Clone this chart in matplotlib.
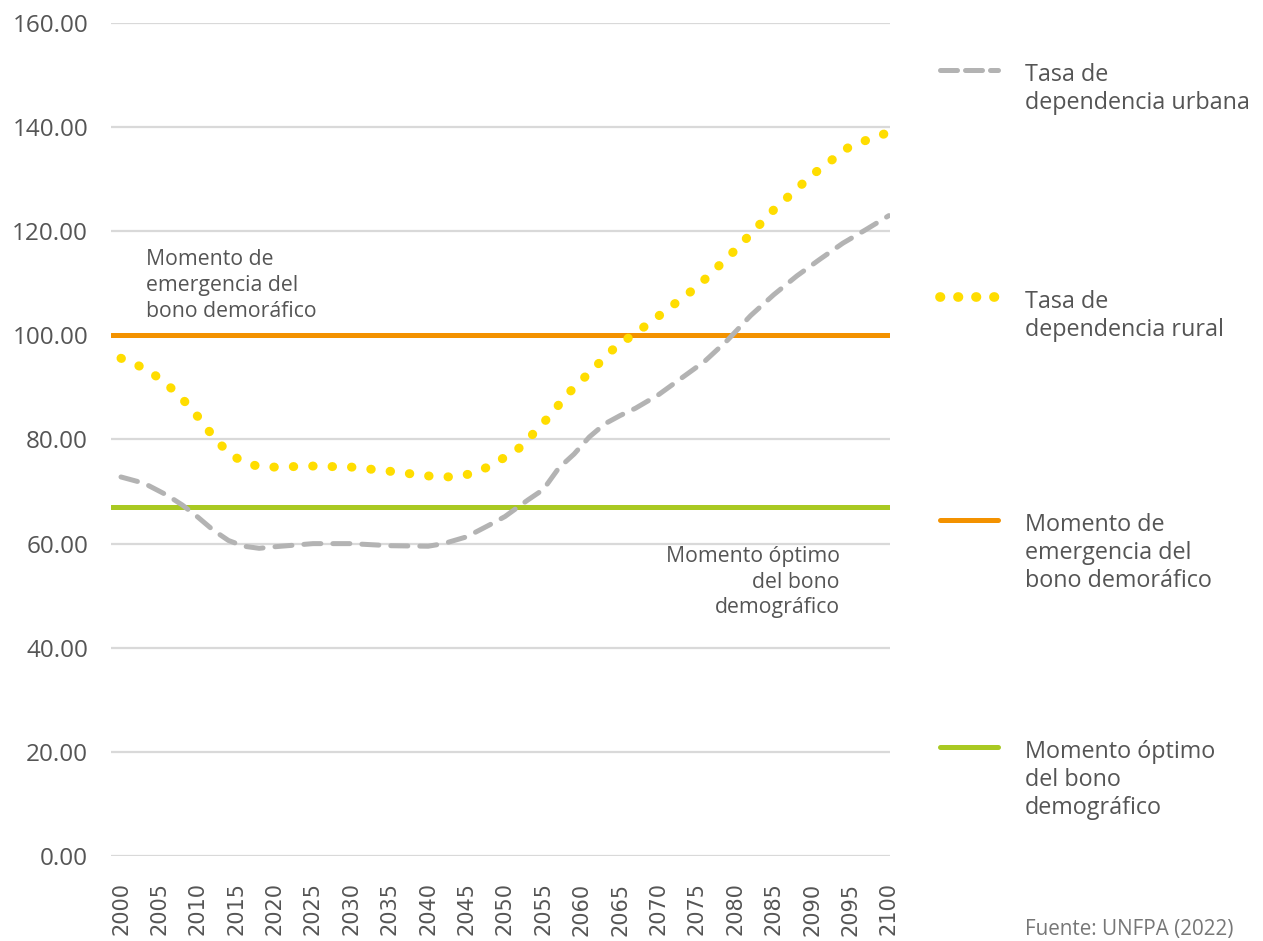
import matplotlib
matplotlib.use("Agg")
import matplotlib.pyplot as plt
from matplotlib.lines import Line2D

plt.rcParams['font.family'] = ['Open Sans', 'DejaVu Sans']

# datos
anios_rural = [2000, 2002, 2004, 2006, 2008, 2010, 2012, 2014, 2016, 2018, 2020,
               2025, 2030, 2035, 2040, 2043, 2046, 2048, 2050, 2052, 2054, 2056,
               2058, 2060, 2062, 2064, 2066, 2068, 2070, 2075, 2080, 2085, 2090,
               2095, 2100]
tasa_rural = [95.6, 94.4, 92.8, 90.6, 87.8, 84.4, 80.6, 77.4, 75.6, 74.8, 74.7,
              74.9, 74.7, 73.9, 73.0, 72.8, 73.5, 74.9, 76.6, 78.5, 81.6, 84.8,
              88.5, 91.4, 94.3, 97.2, 99.4, 101.5, 103.7, 109.3, 116.4, 124.1, 130.8,
              136.4, 139.0]

anios_urbana = [2000, 2003, 2006, 2008, 2010, 2012, 2014, 2016, 2018, 2020, 2025,
                2030, 2035, 2040, 2042, 2045, 2048, 2050, 2053, 2055, 2057, 2059,
                2061, 2063, 2065, 2067, 2070, 2073, 2076, 2079, 2082, 2085, 2088,
                2091, 2094, 2097, 2100]
tasa_urbana = [72.8, 71.6, 69.3, 67.4, 65.1, 62.6, 60.6, 59.5, 59.1, 59.4, 60.0,
               60.0, 59.6, 59.5, 60.0, 61.3, 63.6, 65.2, 68.4, 70.4, 74.5, 77.2,
               80.5, 83.0, 84.6, 86.0, 88.6, 91.8, 95.0, 99.1, 103.8, 107.8, 111.4,
               114.6, 117.7, 120.3, 123.0]

momento_emergencia = 100
momento_optimo = 67

ticks_x = list(range(2000, 2101, 5))
ticks_y = list(range(0, 161, 20))

gris = '#b3b3b3'
amarillo = '#ffdd00'
naranja = '#f39200'
verde = '#a9c922'
texto = '#555555'

fig = plt.figure(figsize=(12.63, 9.41), dpi=100)
ax = fig.add_axes([0.0879, 0.0903, 0.6168, 0.8853])

ax.axhline(momento_emergencia, color=naranja, lw=3.6, solid_capstyle='round', zorder=2)
ax.axhline(momento_optimo, color=verde, lw=3.6, solid_capstyle='round', zorder=2)
ax.plot(anios_urbana, tasa_urbana, color=gris, lw=3.6, linestyle=(0, (3.4, 2.4)),
        dash_capstyle='round', zorder=3)
ax.plot(anios_rural, tasa_rural, color=amarillo, lw=6.5, linestyle=(0, (0.05, 2.1)),
        dash_capstyle='round', zorder=4)

ax.set_xlim(1998.7, 2100.15)
ax.set_ylim(0, 160)
ax.set_xticks(ticks_x)
ax.set_xticklabels([str(t) for t in ticks_x], rotation=90, family='DejaVu Sans',
                   fontsize=15, color=texto)
ax.set_yticks(ticks_y)
ax.set_yticklabels(['%.2f' % t for t in ticks_y], fontsize=17.5, color=texto)
ax.tick_params(axis='x', length=0, pad=19)
ax.tick_params(axis='y', length=0, pad=16.5)
ax.grid(axis='y', color='#d9d9d9', lw=1.6, zorder=0)
for s in ax.spines.values():
    s.set_visible(False)

ax.text(2003.3, 116.6, 'Momento de\nemergencia del\nbono demoráfico', fontsize=15.3,
        color=texto, va='top', ha='left', linespacing=1.3)
ax.text(2093.6, 59.6, 'Momento óptimo\ndel bono\ndemográfico', fontsize=15.3,
        color=texto, va='top', ha='right', linespacing=1.3)

# leyenda manual a la derecha
W, H = 1263, 941
leyenda = [
    ('Tasa de\ndependencia urbana', 70, dict(color=gris, lw=3.6, linestyle=(0, (3.4, 1.6)), dash_capstyle='round')),
    ('Tasa de\ndependencia rural', 297, dict(color=amarillo, lw=7, linestyle=(0, (0.05, 1.8)), dash_capstyle='round')),
    ('Momento de\nemergencia del\nbono demoráfico', 520, dict(color=naranja, lw=3.6, solid_capstyle='round')),
    ('Momento óptimo\ndel bono\ndemográfico', 747, dict(color=verde, lw=3.6, solid_capstyle='round')),
]
for etiqueta, yp, estilo in leyenda:
    y = 1 - yp / H
    fig.add_artist(Line2D([940 / W, 998 / W], [y, y], transform=fig.transFigure, **estilo))
    fig.text(1025 / W, 1 - (yp - 7) / H, etiqueta, fontsize=16.8, color=texto,
             va='top', ha='left', linespacing=1.22)

fig.text(1025 / W, 1 - 930 / H, 'Fuente: UNFPA (2022)', fontsize=14.9, color='#777777',
         va='center', ha='left')

fig.savefig('out.png', dpi=100, facecolor='white')
